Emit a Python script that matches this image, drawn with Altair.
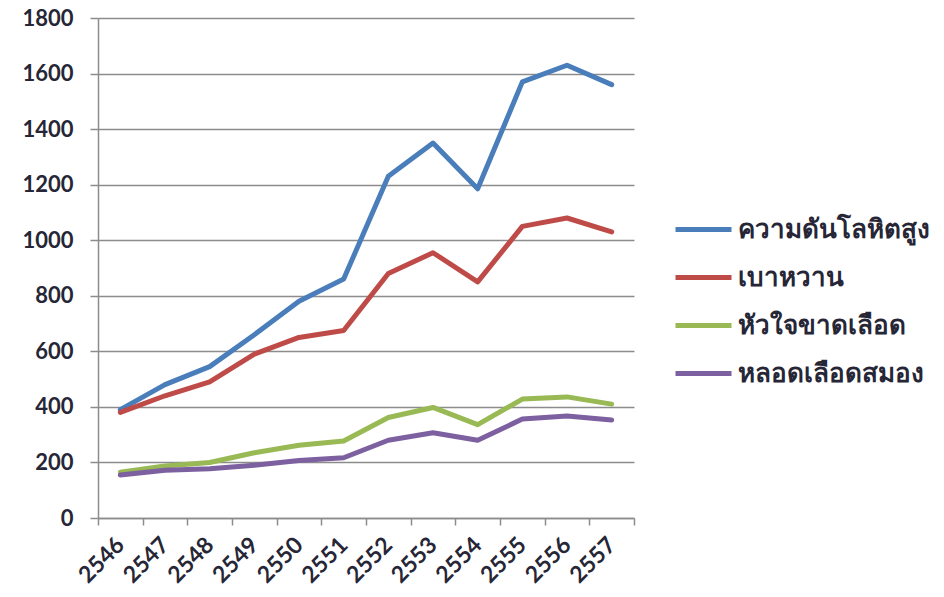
import altair as alt
import pandas as pd

years = ["2546", "2547", "2548", "2549", "2550", "2551", "2552", "2553", "2554", "2555", "2556", "2557"]
series_names = ["ความดันโลหิตสูง", "เบาหวาน", "หัวใจขาดเลือด", "หลอดเลือดสมอง"]
hypertension = [390, 480, 545, 660, 780, 860, 1230, 1350, 1185, 1570, 1630, 1560]
diabetes = [380, 440, 490, 590, 650, 675, 880, 955, 850, 1050, 1080, 1030]
ischemic_heart = [165, 187, 200, 235, 262, 277, 362, 398, 336, 428, 436, 410]
stroke = [155, 172, 177, 190, 207, 217, 280, 307, 280, 356, 367, 353]
colors = ["#4A7EBB", "#BE4B48", "#98B954", "#7D60A0"]

rows = []
for name, vals in zip(series_names, [hypertension, diabetes, ischemic_heart, stroke]):
    for y, v in zip(years, vals):
        rows.append({"year": y, "value": v, "series": name})
df = pd.DataFrame(rows)

FONT = "Lato, Noto Sans, sans-serif"
TXT = "#262636"

chart = alt.Chart(df).mark_line(strokeWidth=5, strokeCap="round", strokeJoin="round").encode(
    x=alt.X("year:O", sort=years,
            scale=alt.Scale(paddingInner=0, paddingOuter=0),
            axis=alt.Axis(title=None, labelAngle=-45, labelAlign="right", labelBaseline="middle",
                          tickBand="extent", grid=False, domainColor="#8c8c8c", domainWidth=1.5,
                          tickColor="#8c8c8c", tickWidth=1.5, tickSize=7, labelPadding=16,
                          labelFont=FONT, labelFontSize=23, labelFontWeight="bold", labelColor=TXT)),
    y=alt.Y("value:Q", scale=alt.Scale(domain=[0, 1800], nice=False),
            axis=alt.Axis(title=None, values=list(range(0, 1801, 200)), format="d", grid=True,
                          gridColor="#8c8c8c", gridWidth=1.5, domainColor="#8c8c8c", domainWidth=1.5,
                          tickColor="#8c8c8c", tickWidth=1.5, tickSize=8, labelPadding=17,
                          labelFont=FONT, labelFontSize=22, labelFontWeight="bold", labelColor=TXT)),
    color=alt.Color("series:N", sort=series_names,
                    scale=alt.Scale(domain=series_names, range=colors),
                    legend=alt.Legend(title=None, orient="none", legendX=575, legendY=181,
                                      symbolType="stroke", symbolSize=3136, symbolStrokeWidth=5,
                                      labelFont=FONT, labelFontSize=26, labelFontWeight="bold",
                                      labelColor=TXT, rowPadding=4, labelOffset=4, labelLimit=400)),
).properties(
    width=536, height=500,
    autosize=alt.AutoSizeParams(type="none"),
    padding={"left": 90, "top": 10, "right": 302, "bottom": 71},
).configure_view(stroke=None)

chart.save("out.html", embed_options={"renderer": "svg", "actions": False})
